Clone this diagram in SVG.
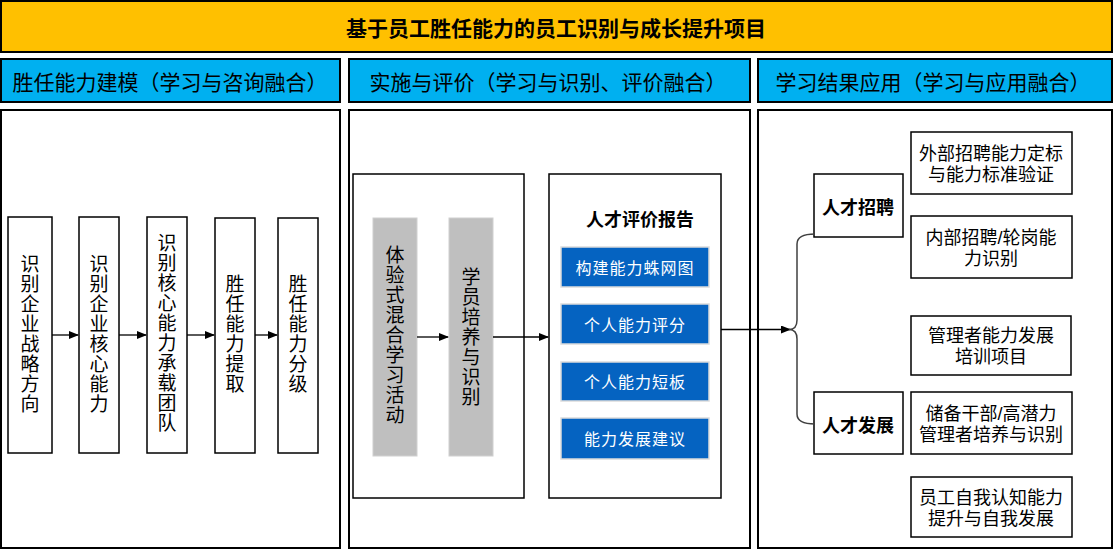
<svg xmlns="http://www.w3.org/2000/svg" width="1114" height="550" viewBox="0 0 1114 550">
<defs>
<marker id="arr" markerWidth="10" markerHeight="8" refX="9" refY="4" orient="auto" markerUnits="userSpaceOnUse">
<path d="M0,0 L10,4 L0,8 Z" fill="#000"/>
</marker>
<style>
text{font-family:"Noto Sans CJK SC","Noto Sans",sans-serif;fill:#000;}
.frame{fill:#fff;stroke:#000;stroke-width:2;}
.hdr{fill:#00B0F0;stroke:#000;stroke-width:2;}
.box{fill:#fff;stroke:#000;stroke-width:1.5;}
.gray{fill:#BFBFBF;stroke:#d0d0d0;stroke-width:1;}
.blue{fill:#0563C1;stroke:#dcdcdc;stroke-width:1.5;}
.ht{font-size:21px;}
.vt{font-size:19px;writing-mode:vertical-rl;letter-spacing:1px;text-anchor:middle;}
.bt{font-size:16px;fill:#fff;letter-spacing:1px;}
.rt{font-size:18px;}
.rt2{font-size:18px;font-family:"Liberation Sans","Noto Sans CJK SC",sans-serif;}
.bold{font-weight:bold;}
.conn{stroke:#000;stroke-width:1.3;fill:none;}
</style>
</defs>

<g id="title">
<rect x="1" y="1" width="1111" height="51" fill="#FFC000" stroke="#000" stroke-width="2"/>
<text x="556" y="27" font-size="21" font-weight="bold" text-anchor="middle" dominant-baseline="central">基于员工胜任能力的员工识别与成长提升项目</text>
</g>

<g id="header1">
<rect class="hdr" x="1" y="59" width="339" height="43"/>
<text class="ht" x="170" y="81" text-anchor="middle" dominant-baseline="central">胜任能力建模（学习与咨询融合）</text>
</g>
<g id="header2">
<rect class="hdr" x="349" y="59" width="401" height="43"/>
<text class="ht" x="548" y="81" text-anchor="middle" dominant-baseline="central">实施与评价（学习与识别、评价融合）</text>
</g>
<g id="header3">
<rect class="hdr" x="758" y="59" width="354" height="43"/>
<text class="ht" x="933" y="81" text-anchor="middle" dominant-baseline="central">学习结果应用（学习与应用融合）</text>
</g>

<g id="panel1"><rect class="frame" x="1" y="110" width="339" height="438"/></g>
<g id="panel2"><rect class="frame" x="349" y="110" width="401" height="438"/></g>
<g id="panel3"><rect class="frame" x="758" y="110" width="354" height="438"/></g>

<g id="p1box1">
<rect class="box" x="8" y="217" width="44" height="236"/>
<text class="vt" x="30" y="334">识别企业战略方向</text>
</g>
<g id="p1box2">
<rect class="box" x="79" y="217" width="40" height="236"/>
<text class="vt" x="99" y="334">识别企业核心能力</text>
</g>
<g id="p1box3">
<rect class="box" x="147" y="217" width="40" height="236"/>
<text class="vt" x="167" y="333">识别核心能力承载团队</text>
</g>
<g id="p1box4">
<rect class="box" x="215" y="218" width="40" height="235"/>
<text class="vt" x="235" y="334">胜任能力提取</text>
</g>
<g id="p1box5">
<rect class="box" x="278" y="218" width="40" height="235"/>
<text class="vt" x="298" y="334">胜任能力分级</text>
</g>

<g id="p2learn">
<rect class="box" x="353" y="174" width="171" height="324"/>
<rect class="gray" x="373" y="218" width="44" height="238"/>
<text class="vt" x="395" y="335">体验式混合学习活动</text>
</g>
<g id="p2train">
<rect class="gray" x="449" y="218" width="44" height="238"/>
<text class="vt" x="471" y="337">学员培养与识别</text>
</g>

<g id="p2report">
<rect class="box" x="549" y="174" width="172" height="324"/>
<text class="rt bold" x="640" y="218" text-anchor="middle" dominant-baseline="central">人才评价报告</text>
<rect class="blue" x="561" y="247" width="148" height="40"/>
<text class="bt" x="635" y="267" text-anchor="middle" dominant-baseline="central">构建能力蛛网图</text>
<rect class="blue" x="561" y="304" width="148" height="40"/>
<text class="bt" x="635" y="324" text-anchor="middle" dominant-baseline="central">个人能力评分</text>
<rect class="blue" x="561" y="362" width="148" height="39"/>
<text class="bt" x="635" y="381" text-anchor="middle" dominant-baseline="central">个人能力短板</text>
<rect class="blue" x="561" y="418" width="148" height="41"/>
<text class="bt" x="635" y="438" text-anchor="middle" dominant-baseline="central">能力发展建议</text>
</g>

<g id="recruit">
<rect class="box" x="814" y="174" width="89" height="63"/>
<text class="rt bold" x="858" y="206" text-anchor="middle" dominant-baseline="central">人才招聘</text>
</g>
<g id="develop">
<rect class="box" x="814" y="392" width="89" height="62"/>
<text class="rt bold" x="858" y="424" text-anchor="middle" dominant-baseline="central">人才发展</text>
</g>

<g id="r1">
<rect class="box" x="911" y="132" width="161" height="62"/>
<text class="rt2" text-anchor="middle"><tspan x="991" y="160">外部招聘能力定标</tspan><tspan x="991" y="181">与能力标准验证</tspan></text>
</g>
<g id="r2">
<rect class="box" x="911" y="216" width="161" height="62"/>
<text class="rt2" text-anchor="middle"><tspan x="991" y="244">内部招聘/轮岗能</tspan><tspan x="991" y="265">力识别</tspan></text>
</g>
<g id="r3">
<rect class="box" x="911" y="316" width="160" height="59"/>
<text class="rt2" text-anchor="middle"><tspan x="991" y="342">管理者能力发展</tspan><tspan x="991" y="363">培训项目</tspan></text>
</g>
<g id="r4">
<rect class="box" x="911" y="392" width="161" height="62"/>
<text class="rt2" text-anchor="middle"><tspan x="991" y="420">储备干部/高潜力</tspan><tspan x="991" y="441">管理者培养与识别</tspan></text>
</g>
<g id="r5">
<rect class="box" x="911" y="477" width="161" height="60"/>
<text class="rt2" text-anchor="middle"><tspan x="991" y="504">员工自我认知能力</tspan><tspan x="991" y="525">提升与自我发展</tspan></text>
</g>

<g id="connectors">
<line class="conn" x1="52" y1="335" x2="78" y2="335" marker-end="url(#arr)"/>
<line class="conn" x1="119" y1="335" x2="146" y2="335" marker-end="url(#arr)"/>
<line class="conn" x1="187" y1="335" x2="214" y2="335" marker-end="url(#arr)"/>
<line class="conn" x1="255" y1="335" x2="277" y2="335" marker-end="url(#arr)"/>
<line class="conn" x1="417" y1="337" x2="448" y2="337" marker-end="url(#arr)"/>
<line class="conn" x1="493" y1="337" x2="548" y2="337" marker-end="url(#arr)"/>
<line class="conn" x1="721" y1="329.5" x2="790" y2="329.5" marker-end="url(#arr)"/>
<path d="M815,234 Q797,234 797,244 L797,320 Q797,329.5 789,329.5 Q797,329.5 797,339 L797,414 Q797,424 815,424" fill="none" stroke="#404040" stroke-width="1.5"/>
</g>
</svg>
